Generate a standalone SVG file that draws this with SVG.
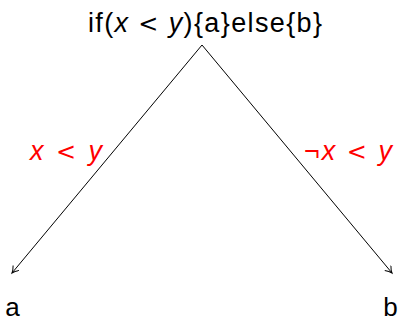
<svg xmlns="http://www.w3.org/2000/svg" width="398" height="322" viewBox="0 0 398 322">
<style>
text{font-family:"Liberation Sans","DejaVu Sans",sans-serif;font-size:27px;fill:#000}
.lbl{fill:#ff0000}
.i{font-style:italic}
.lt{font-family:"DejaVu Sans",sans-serif;font-size:24px}
.leaf{font-size:26px}
.edge{stroke:#000;stroke-width:1;fill:none}
</style>
<defs>
<marker id="ah" markerWidth="10" markerHeight="10" refX="7" refY="4" orient="auto" markerUnits="userSpaceOnUse">
<path d="M0.5,0 Q4,3 7,4 Q4,5 0.5,8" stroke="#000" stroke-width="1" fill="none"/>
</marker>
</defs>
<g id="root"><text x="205" y="32" text-anchor="middle" textLength="234" lengthAdjust="spacing">if(<tspan class="i">x</tspan> <tspan class="lt">&lt;</tspan> <tspan class="i">y</tspan>){a}else{b}</text></g>
<g id="a"><text class="leaf" x="12.5" y="316" text-anchor="middle">a</text></g>
<g id="b"><text class="leaf" x="390.5" y="316" text-anchor="middle">b</text></g>
<g id="connectors">
<line class="edge" x1="202" y1="45" x2="12" y2="273" marker-end="url(#ah)"/>
<line class="edge" x1="202" y1="45" x2="392" y2="273" marker-end="url(#ah)"/>
<text class="lbl" x="66" y="160" text-anchor="middle" textLength="72" lengthAdjust="spacing"><tspan class="i">x</tspan> <tspan class="lt">&lt;</tspan> <tspan class="i">y</tspan></text>
<text class="lbl" x="348" y="160" text-anchor="middle" textLength="88" lengthAdjust="spacing">¬<tspan class="i">x</tspan> <tspan class="lt">&lt;</tspan> <tspan class="i">y</tspan></text>
</g>
</svg>
